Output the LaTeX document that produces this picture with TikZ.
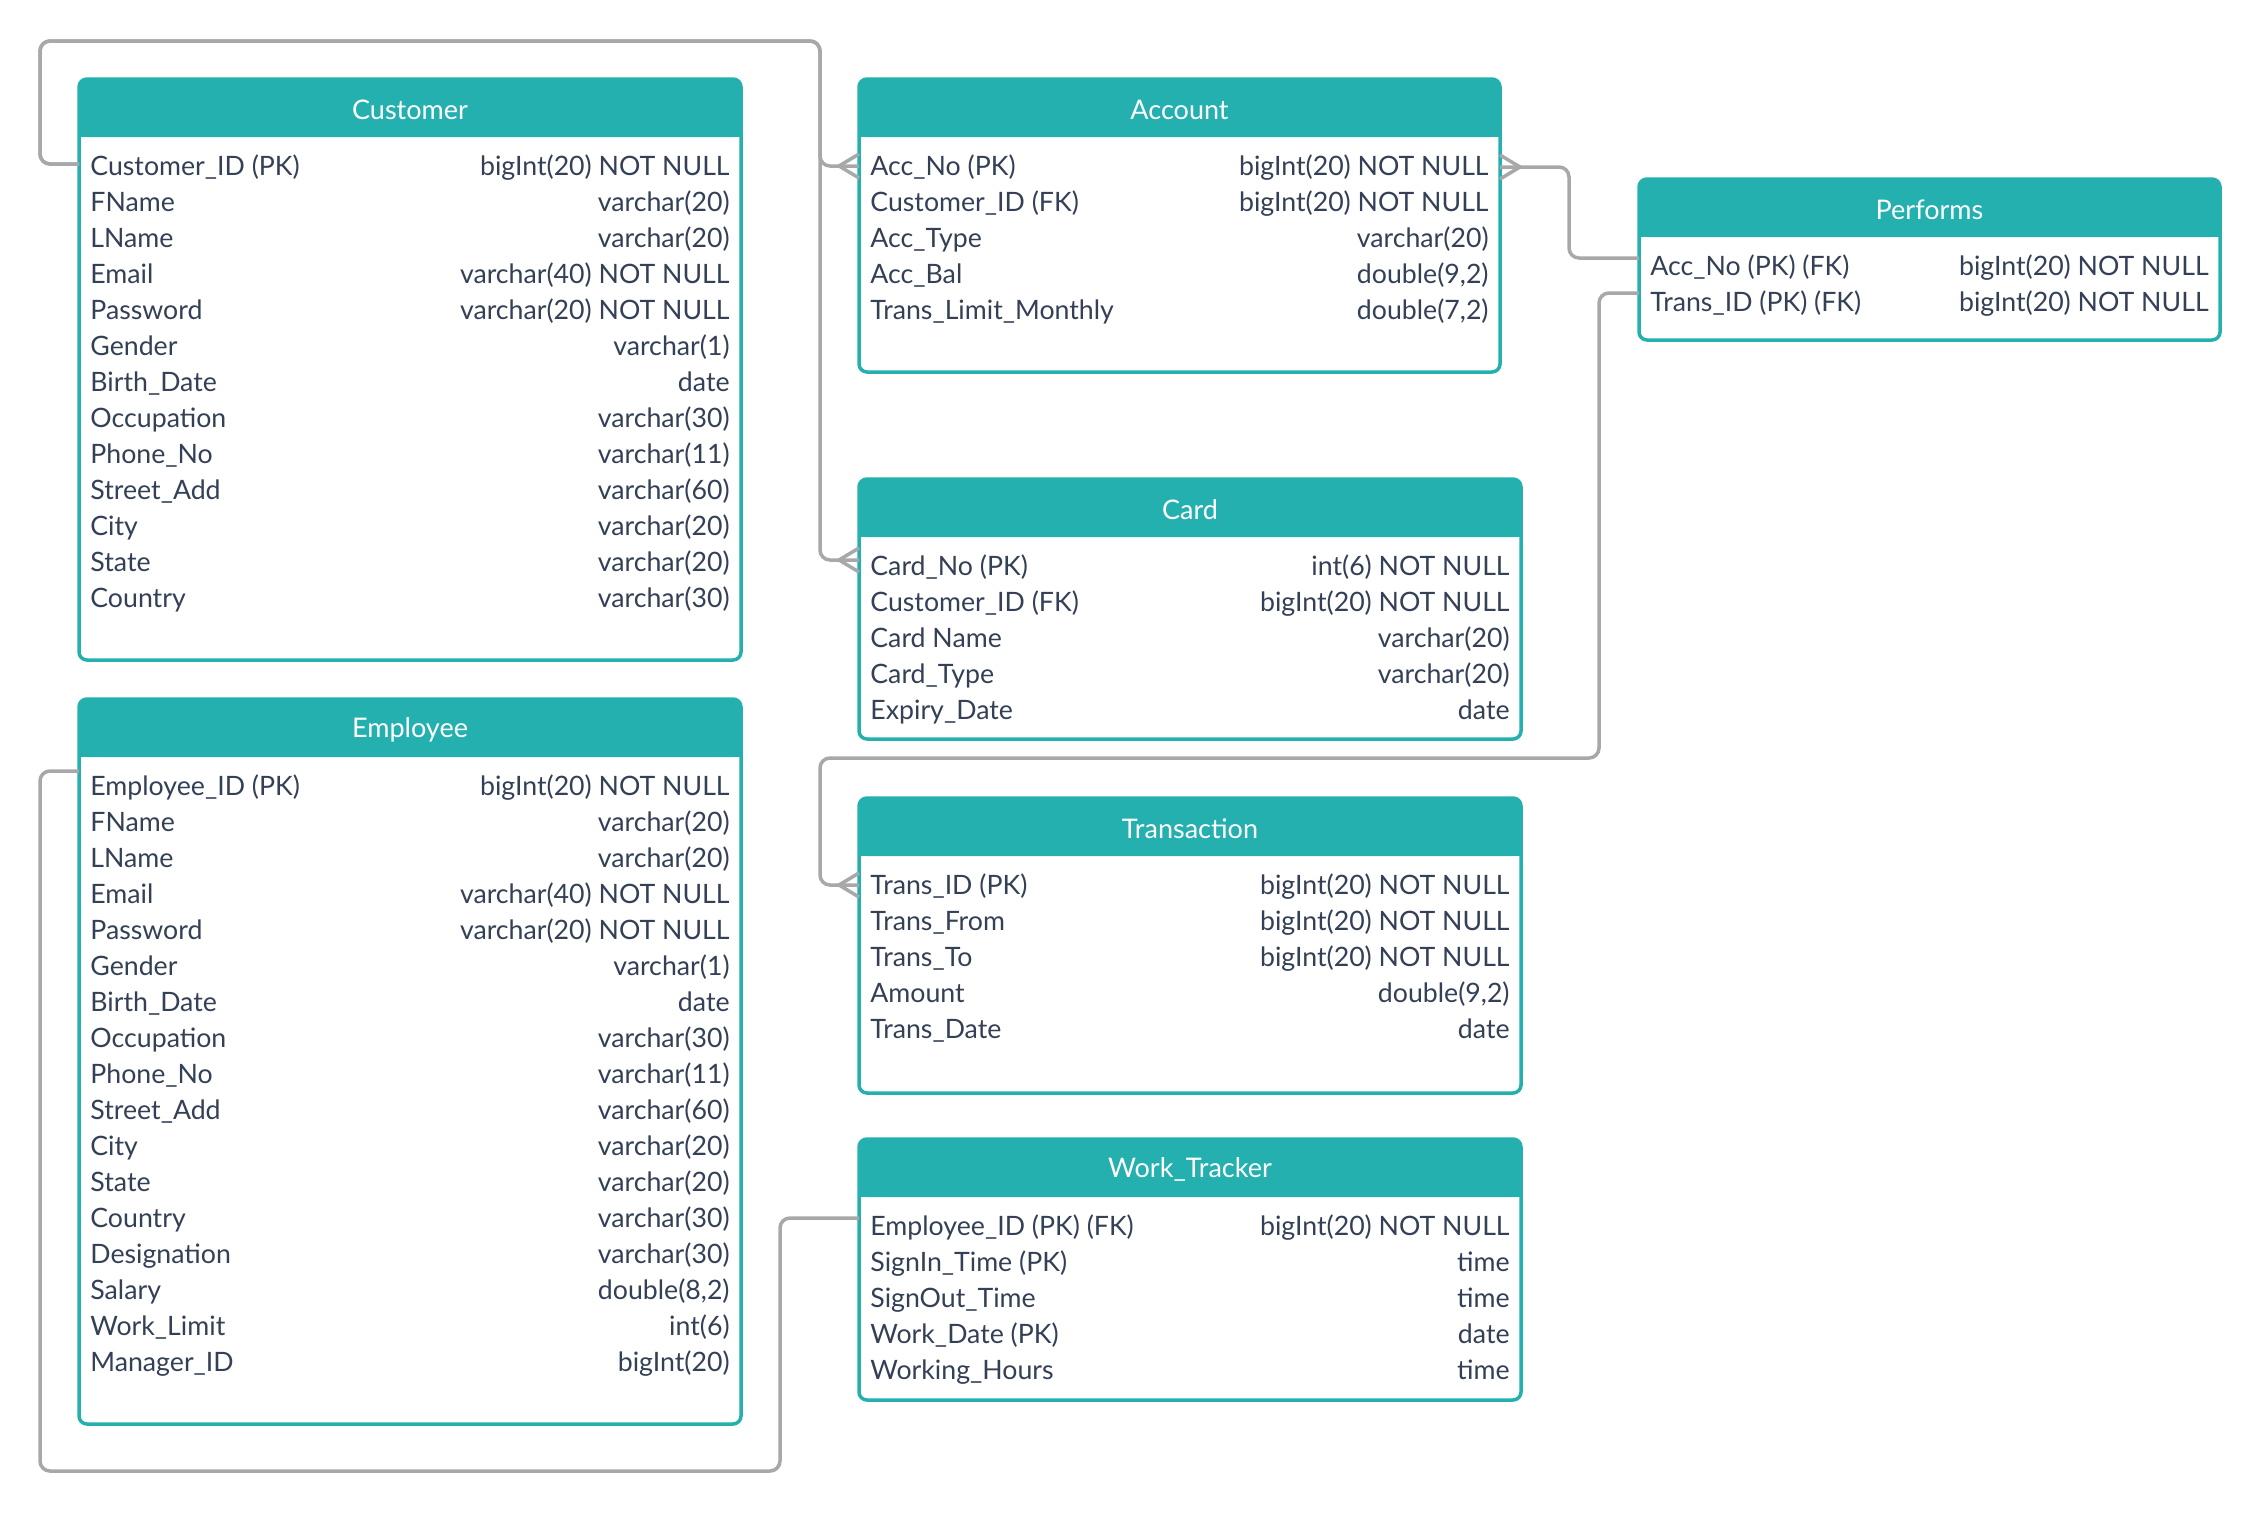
\documentclass[tikz,border=0pt]{standalone}
\usepackage{fontspec}
\setmainfont{Lato}
\usetikzlibrary{calc}
\definecolor{erteal}{HTML}{24B0AF}
\definecolor{ertext}{HTML}{344056}
\definecolor{ergrey}{HTML}{A8A8A8}
\tikzset{
  tablebox/.style={draw=erteal, fill=white, line width=1.75pt, rounded corners=4pt, inner sep=0pt, outer sep=0pt},
  hdrfill/.style={fill=erteal},
  titletext/.style={text=white, font=\fontsize{13.5pt}{16pt}\selectfont, inner sep=0pt},
  celltext/.style={text=ertext, font=\fontsize{13.35pt}{16pt}\selectfont, inner sep=0pt, text height=0.72em, text depth=0.2em},
  conn/.style={draw=ergrey, line width=1.75pt, rounded corners=5pt},
  foot/.style={draw=ergrey, line width=1.75pt},
}
\newcommand{\ertable}[6]{%
  \node[tablebox, minimum width={(#4-#2)*0.5pt}, minimum height={(#5-#3)*0.5pt}] (#1) at ({(#2+#4)/2},{(#3+#5)/2}) {};
  \fill[hdrfill, rounded corners=4pt] (#1.north west) rectangle ($(#1.north east)+(0,58)$);
  \fill[hdrfill] ($(#1.north west)+(0,30)$) rectangle ($(#1.north east)+(0,58)$);
  \node[titletext] (#1-t) at ({(#2+#4)/2},{#3+30.5}) {#6};
}
\newcommand{\errow}[4]{%
  \node[celltext, anchor=west] (#1-l#2) at ($(#1.north west)+(11,{91+36*(#2-1)})$) {#3};
  \node[celltext, anchor=east] (#1-r#2) at ($(#1.north east)+(-11,{91+36*(#2-1)})$) {#4};
}
\newcommand{\crowleft}[1]{%
  \draw[foot] ($(#1)+(0,-12)$) -- ($(#1)+(-20,0)$) -- ($(#1)+(0,12)$);
}
\newcommand{\crowright}[1]{%
  \draw[foot] ($(#1)+(0,-12)$) -- ($(#1)+(20,0)$) -- ($(#1)+(0,12)$);
}
\begin{document}
\begin{tikzpicture}[x=0.5pt, y=-0.5pt]
\useasboundingbox[fill=white] (0,0) rectangle (2260,1512);

% Customer
\ertable{cust}{79}{79}{741}{660}{Customer}
\errow{cust}{1}{Customer\_ID (PK)}{bigInt(20) NOT NULL}
\errow{cust}{2}{FName}{varchar(20)}
\errow{cust}{3}{LName}{varchar(20)}
\errow{cust}{4}{Email}{varchar(40) NOT NULL}
\errow{cust}{5}{Password}{varchar(20) NOT NULL}
\errow{cust}{6}{Gender}{varchar(1)}
\errow{cust}{7}{Birth\_Date}{date}
\errow{cust}{8}{Occupation}{varchar(30)}
\errow{cust}{9}{Phone\_No}{varchar(11)}
\errow{cust}{10}{Street\_Add}{varchar(60)}
\errow{cust}{11}{City}{varchar(20)}
\errow{cust}{12}{State}{varchar(20)}
\errow{cust}{13}{Country}{varchar(30)}

% Account
\ertable{acc}{859}{79}{1500}{372}{Account}
\errow{acc}{1}{Acc\_No (PK)}{bigInt(20) NOT NULL}
\errow{acc}{2}{Customer\_ID (FK)}{bigInt(20) NOT NULL}
\errow{acc}{3}{Acc\_Type}{varchar(20)}
\errow{acc}{4}{Acc\_Bal}{double(9,2)}
\errow{acc}{5}{Trans\_Limit\_Monthly}{double(7,2)}

% Performs
\ertable{perf}{1639}{179}{2220}{340}{Performs}
\errow{perf}{1}{Acc\_No (PK) (FK)}{bigInt(20) NOT NULL}
\errow{perf}{2}{Trans\_ID (PK) (FK)}{bigInt(20) NOT NULL}

% Card
\ertable{card}{859}{479}{1521}{739}{Card}
\errow{card}{1}{Card\_No (PK)}{int(6) NOT NULL}
\errow{card}{2}{Customer\_ID (FK)}{bigInt(20) NOT NULL}
\errow{card}{3}{Card Name}{varchar(20)}
\errow{card}{4}{Card\_Type}{varchar(20)}
\errow{card}{5}{Expiry\_Date}{date}

% Employee
\ertable{emp}{79}{699}{741}{1424}{Employee}
\errow{emp}{1}{Employee\_ID (PK)}{bigInt(20) NOT NULL}
\errow{emp}{2}{FName}{varchar(20)}
\errow{emp}{3}{LName}{varchar(20)}
\errow{emp}{4}{Email}{varchar(40) NOT NULL}
\errow{emp}{5}{Password}{varchar(20) NOT NULL}
\errow{emp}{6}{Gender}{varchar(1)}
\errow{emp}{7}{Birth\_Date}{date}
\errow{emp}{8}{Occupation}{varchar(30)}
\errow{emp}{9}{Phone\_No}{varchar(11)}
\errow{emp}{10}{Street\_Add}{varchar(60)}
\errow{emp}{11}{City}{varchar(20)}
\errow{emp}{12}{State}{varchar(20)}
\errow{emp}{13}{Country}{varchar(30)}
\errow{emp}{14}{Designation}{varchar(30)}
\errow{emp}{15}{Salary}{double(8,2)}
\errow{emp}{16}{Work\_Limit}{int(6)}
\errow{emp}{17}{Manager\_ID}{bigInt(20)}

% Transaction
\ertable{trans}{859}{798}{1521}{1093}{Transaction}
\errow{trans}{1}{Trans\_ID (PK)}{bigInt(20) NOT NULL}
\errow{trans}{2}{Trans\_From}{bigInt(20) NOT NULL}
\errow{trans}{3}{Trans\_To}{bigInt(20) NOT NULL}
\errow{trans}{4}{Amount}{double(9,2)}
\errow{trans}{5}{Trans\_Date}{date}

% Work_Tracker
\ertable{wt}{859}{1139}{1521}{1400}{Work\_Tracker}
\errow{wt}{1}{Employee\_ID (PK) (FK)}{bigInt(20) NOT NULL}
\errow{wt}{2}{SignIn\_Time (PK)}{time}
\errow{wt}{3}{SignOut\_Time}{time}
\errow{wt}{4}{Work\_Date (PK)}{date}
\errow{wt}{5}{Working\_Hours}{time}

% attach points
\coordinate (pCust) at ($(cust.west |- cust-l1)+(0,-6)$);
\coordinate (pAccL) at ($(acc.west |- acc-l1)+(0,-4)$);
\coordinate (pAccR) at ($(acc.east |- acc-l1)+(0,-3)$);
\coordinate (pCard) at ($(card.west |- card-l1)+(0,-10)$);
\coordinate (pPerfA) at ($(perf.west |- perf-l1)+(0,-12)$);
\coordinate (pPerfB) at ($(perf.west |- perf-l2)+(0,-13)$);
\coordinate (pTrans) at ($(trans.west |- trans-l1)+(0,-4)$);
\coordinate (pEmp) at ($(emp.west |- emp-l1)+(0,-19)$);
\coordinate (pWT) at ($(wt.west |- wt-l1)+(0,-12)$);

% connectors
\draw[conn] (pCust) -| (40,41) -| ($(pAccL)+(-39,0)$) -- (pAccL);
\draw[conn] (pCust) -| (40,41) -| ($(pCard)+(-39,0)$) -- (pCard);
\draw[conn] (pAccR) -| ($(pPerfA)+(-70,0)$) -- (pPerfA);
\draw[conn] (pPerfB) -| (1599,758) -| ($(pTrans)+(-39,0)$) -- (pTrans);
\draw[conn] (pEmp) -| (40,1471) -| ($(pWT)+(-79,0)$) -- (pWT);

\crowleft{pAccL}
\crowleft{pCard}
\crowleft{pTrans}
\crowright{pAccR}
\end{tikzpicture}
\end{document}
